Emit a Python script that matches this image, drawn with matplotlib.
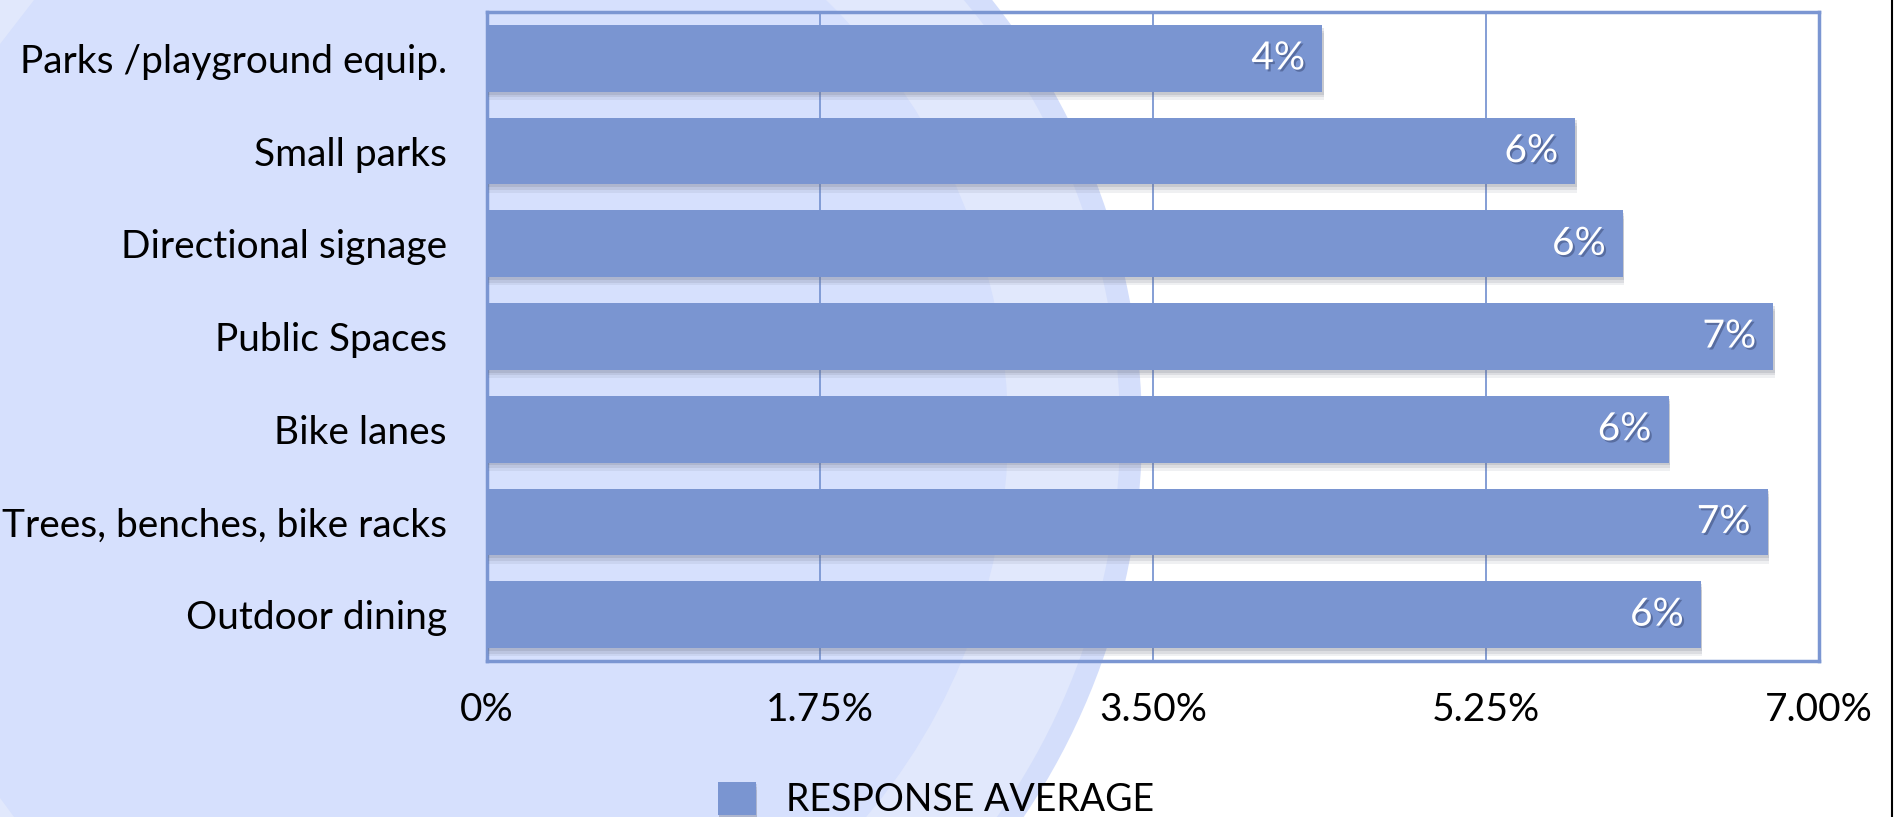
import matplotlib
matplotlib.use("Agg")
import matplotlib.pyplot as plt
import matplotlib.patheffects as pe
from matplotlib.patches import Circle, Polygon
from matplotlib.lines import Line2D

# chart data (top to bottom)
categories = ["Parks /playground equip.", "Small parks", "Directional signage",
              "Public Spaces", "Bike lanes", "Trees, benches, bike racks", "Outdoor dining"]
values = [4.39, 5.72, 5.97, 6.76, 6.21, 6.73, 6.38]
value_labels = ["4%", "6%", "6%", "7%", "6%", "7%", "6%"]
tick_values = [0, 1.75, 3.50, 5.25, 7.00]
tick_labels = ["0%", "1.75%", "3.50%", "5.25%", "7.00%"]
series_name = "RESPONSE AVERAGE"

BAR = "#7A95D1"
EDGE = "#7B96D2"
W, H = 1894, 817

plt.rcParams["font.family"] = ["Lato", "DejaVu Sans"]

fig = plt.figure(figsize=(W / 100, H / 100), dpi=100, facecolor="white")

# slide background: light blue area with a curved ring on its right side
bg = fig.add_axes([0, 0, 1, 1], zorder=-5)
bg.set_xlim(0, W)
bg.set_ylim(H, 0)
bg.axis("off")
bg.add_patch(Circle((450, 430), 692, color="#D4DEFB", lw=0))
bg.add_patch(Circle((450, 430), 670, color="#E1E8FC", lw=0))
bg.add_patch(Circle((409, 430), 599, color="#D6E0FD", lw=0))
bg.add_patch(Polygon([(0, 0), (34, 0), (0, 44)], color="#E1E8FC", lw=0))
bg.add_patch(Polygon([(0, 798), (14, 817), (0, 817)], color="#E1E8FC", lw=0))
bg.add_line(Line2D([1892, 1892], [0, H], color="black", lw=1.5))

ax = fig.add_axes([487 / W, 1 - 661 / H, (1819 - 487) / W, (661 - 12) / H])
ax.set_facecolor("none")

ypos = list(range(len(categories)))
bars = ax.barh(ypos, values, height=0.72, color=BAR, label=series_name, zorder=3)
# soft drop shadow: a few stacked faint offsets
for b in bars:
    b.set_path_effects([
        pe.SimplePatchShadow(offset=(1, -6), shadow_rgbFace="#6a6f80", alpha=0.10),
        pe.SimplePatchShadow(offset=(1, -4), shadow_rgbFace="#6a6f80", alpha=0.14),
        pe.SimplePatchShadow(offset=(1, -2), shadow_rgbFace="#6a6f80", alpha=0.18),
        pe.Normal()])

for y, v, lab in zip(ypos, values, value_labels):
    ax.text(v - 0.09, y, lab, ha="right", va="center", color="white", fontsize=28, zorder=4,
            path_effects=[pe.SimplePatchShadow(offset=(1.5, -1.5), shadow_rgbFace="#2f3d66", alpha=0.45),
                          pe.Normal()])

ax.set_xlim(0, 7)
ax.set_ylim(len(categories) - 0.5, -0.5)
ax.set_xticks(tick_values)
ax.set_xticklabels(tick_labels, fontsize=28)
ax.set_yticks(ypos)
ax.set_yticklabels(categories, fontsize=28)
ax.tick_params(axis="both", length=0)
ax.tick_params(axis="y", pad=29)
ax.tick_params(axis="x", pad=22)

ax.set_axisbelow(True)
ax.xaxis.grid(True, color=EDGE, lw=1.3)
for s in ax.spines.values():
    s.set_color(EDGE)
    s.set_linewidth(2.5)

fig.legend(handles=[bars], labels=[series_name], loc="center left",
           bbox_to_anchor=(718 / W, 1 - 800 / H), frameon=False, fontsize=27,
           handlelength=1.0, handleheight=1.0, handletextpad=0.8,
           borderpad=0, borderaxespad=0)

fig.savefig("out.png", dpi=100, facecolor="white")
